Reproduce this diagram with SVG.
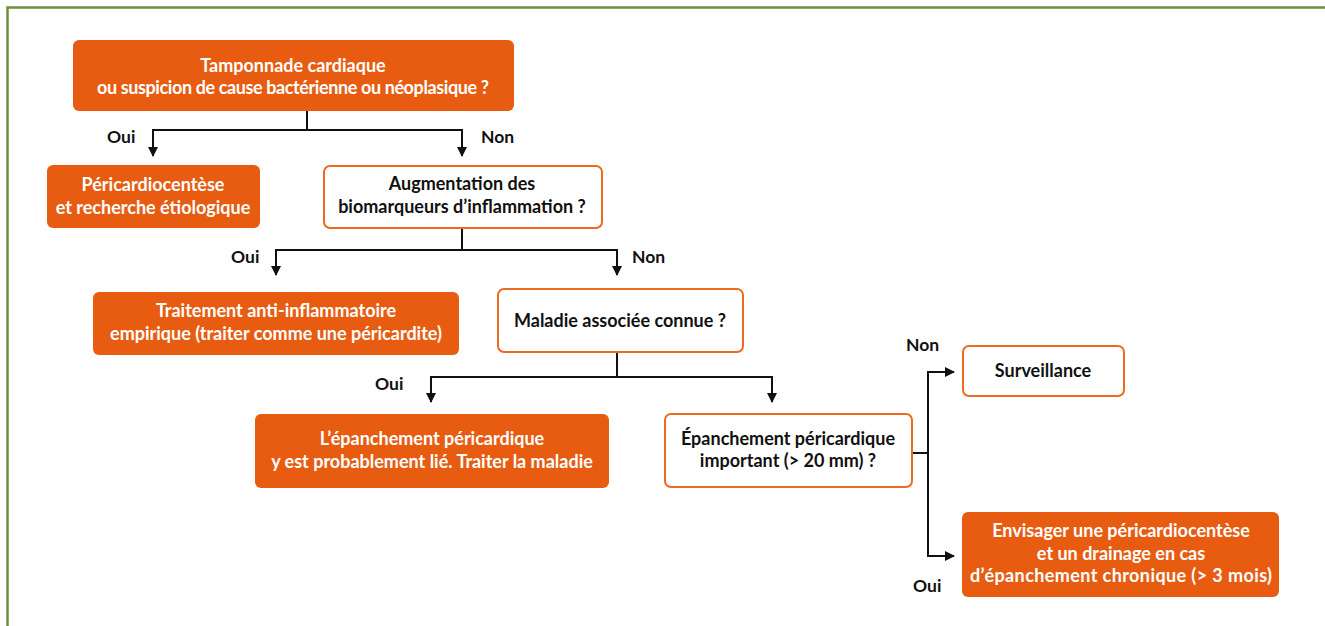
<svg xmlns="http://www.w3.org/2000/svg" width="1325" height="626" viewBox="0 0 1325 626">
<style>
.bg{fill:#fff}
.frame{fill:none;stroke:#6b8f3a;stroke-width:2.5}
.fill{fill:#e85c12}
.out{fill:#fff;stroke:#ee6a1e;stroke-width:2}
text{font-family:Lato,"Open Sans","Liberation Sans",sans-serif;font-weight:bold;font-size:18px;text-anchor:middle}
.w{fill:#fff}
.k{fill:#111}
.lbl{fill:#111;text-anchor:start;font-size:17.5px}
.c{fill:none;stroke:#111;stroke-width:2}
</style>
<defs>
<marker id="ah" markerWidth="12" markerHeight="12" refX="9" refY="5.5" orient="auto" markerUnits="userSpaceOnUse">
<path d="M0,0.5 L10,5.5 L0,10.5 Z" fill="#111"/>
</marker>
</defs>
<rect class="bg" x="0" y="0" width="1325" height="626"/>
<rect class="frame" x="7.5" y="7.5" width="1340" height="640"/>

<g id="connectors">
<path class="c" d="M307,111 V130 M153,130 H462"/>
<path class="c" d="M153,129 V156" marker-end="url(#ah)"/>
<path class="c" d="M462,129 V156" marker-end="url(#ah)"/>
<path class="c" d="M462,228 V250 M276,250 H617"/>
<path class="c" d="M276,249 V275" marker-end="url(#ah)"/>
<path class="c" d="M617,249 V275" marker-end="url(#ah)"/>
<path class="c" d="M617,352 V377 M431,377 H772"/>
<path class="c" d="M431,376 V402" marker-end="url(#ah)"/>
<path class="c" d="M772,376 V402" marker-end="url(#ah)"/>
<path class="c" d="M912,453 H928 M928,371 V557"/>
<path class="c" d="M927,372 H954" marker-end="url(#ah)"/>
<path class="c" d="M927,556 H954" marker-end="url(#ah)"/>
<text class="lbl" x="107" y="143">Oui</text>
<text class="lbl" x="481" y="143">Non</text>
<text class="lbl" x="231" y="263">Oui</text>
<text class="lbl" x="632" y="263">Non</text>
<text class="lbl" x="375" y="390">Oui</text>
<text class="lbl" x="906" y="351">Non</text>
<text class="lbl" x="913" y="592">Oui</text>
</g>

<g id="n1">
<rect class="fill" x="73" y="40" width="441" height="71" rx="6"/>
<text class="w" x="293" y="72">Tamponnade cardiaque</text>
<text class="w" x="293" y="94" textLength="392" lengthAdjust="spacing">ou suspicion de cause bactérienne ou néoplasique ?</text>
</g>
<g id="n2">
<rect class="fill" x="47" y="165" width="213" height="63" rx="6"/>
<text class="w" x="153" y="191">Péricardiocentèse</text>
<text class="w" x="153" y="214">et recherche étiologique</text>
</g>
<g id="n3">
<rect class="out" x="324" y="166" width="278" height="62" rx="6"/>
<text class="k" x="462" y="190">Augmentation des</text>
<text class="k" x="462" y="213">biomarqueurs d’inflammation ?</text>
</g>
<g id="n4">
<rect class="fill" x="93" y="292" width="366" height="63" rx="6"/>
<text class="w" x="276" y="317">Traitement anti-inflammatoire</text>
<text class="w" x="276" y="340">empirique (traiter comme une péricardite)</text>
</g>
<g id="n5">
<rect class="out" x="498" y="289" width="245" height="63" rx="6"/>
<text class="k" x="620" y="327">Maladie associée connue ?</text>
</g>
<g id="n6">
<rect class="fill" x="255" y="414" width="354" height="74" rx="6"/>
<text class="w" x="432" y="445">L’épanchement péricardique</text>
<text class="w" x="432" y="468">y est probablement lié. Traiter la maladie</text>
</g>
<g id="n7">
<rect class="out" x="665" y="414" width="247" height="73" rx="6"/>
<text class="k" x="788" y="445">Épanchement péricardique</text>
<text class="k" x="788" y="467">important (&gt; 20 mm) ?</text>
</g>
<g id="n8">
<rect class="out" x="963" y="346" width="161" height="50" rx="6"/>
<text class="k" x="1043" y="377">Surveillance</text>
</g>
<g id="n9">
<rect class="fill" x="962" y="512" width="317" height="85" rx="6"/>
<text class="w" x="1121" y="537">Envisager une péricardiocentèse</text>
<text class="w" x="1121" y="560">et un drainage en cas</text>
<text class="w" x="1121" y="582" textLength="302" lengthAdjust="spacing">d’épanchement chronique (&gt; 3 mois)</text>
</g>
</svg>
